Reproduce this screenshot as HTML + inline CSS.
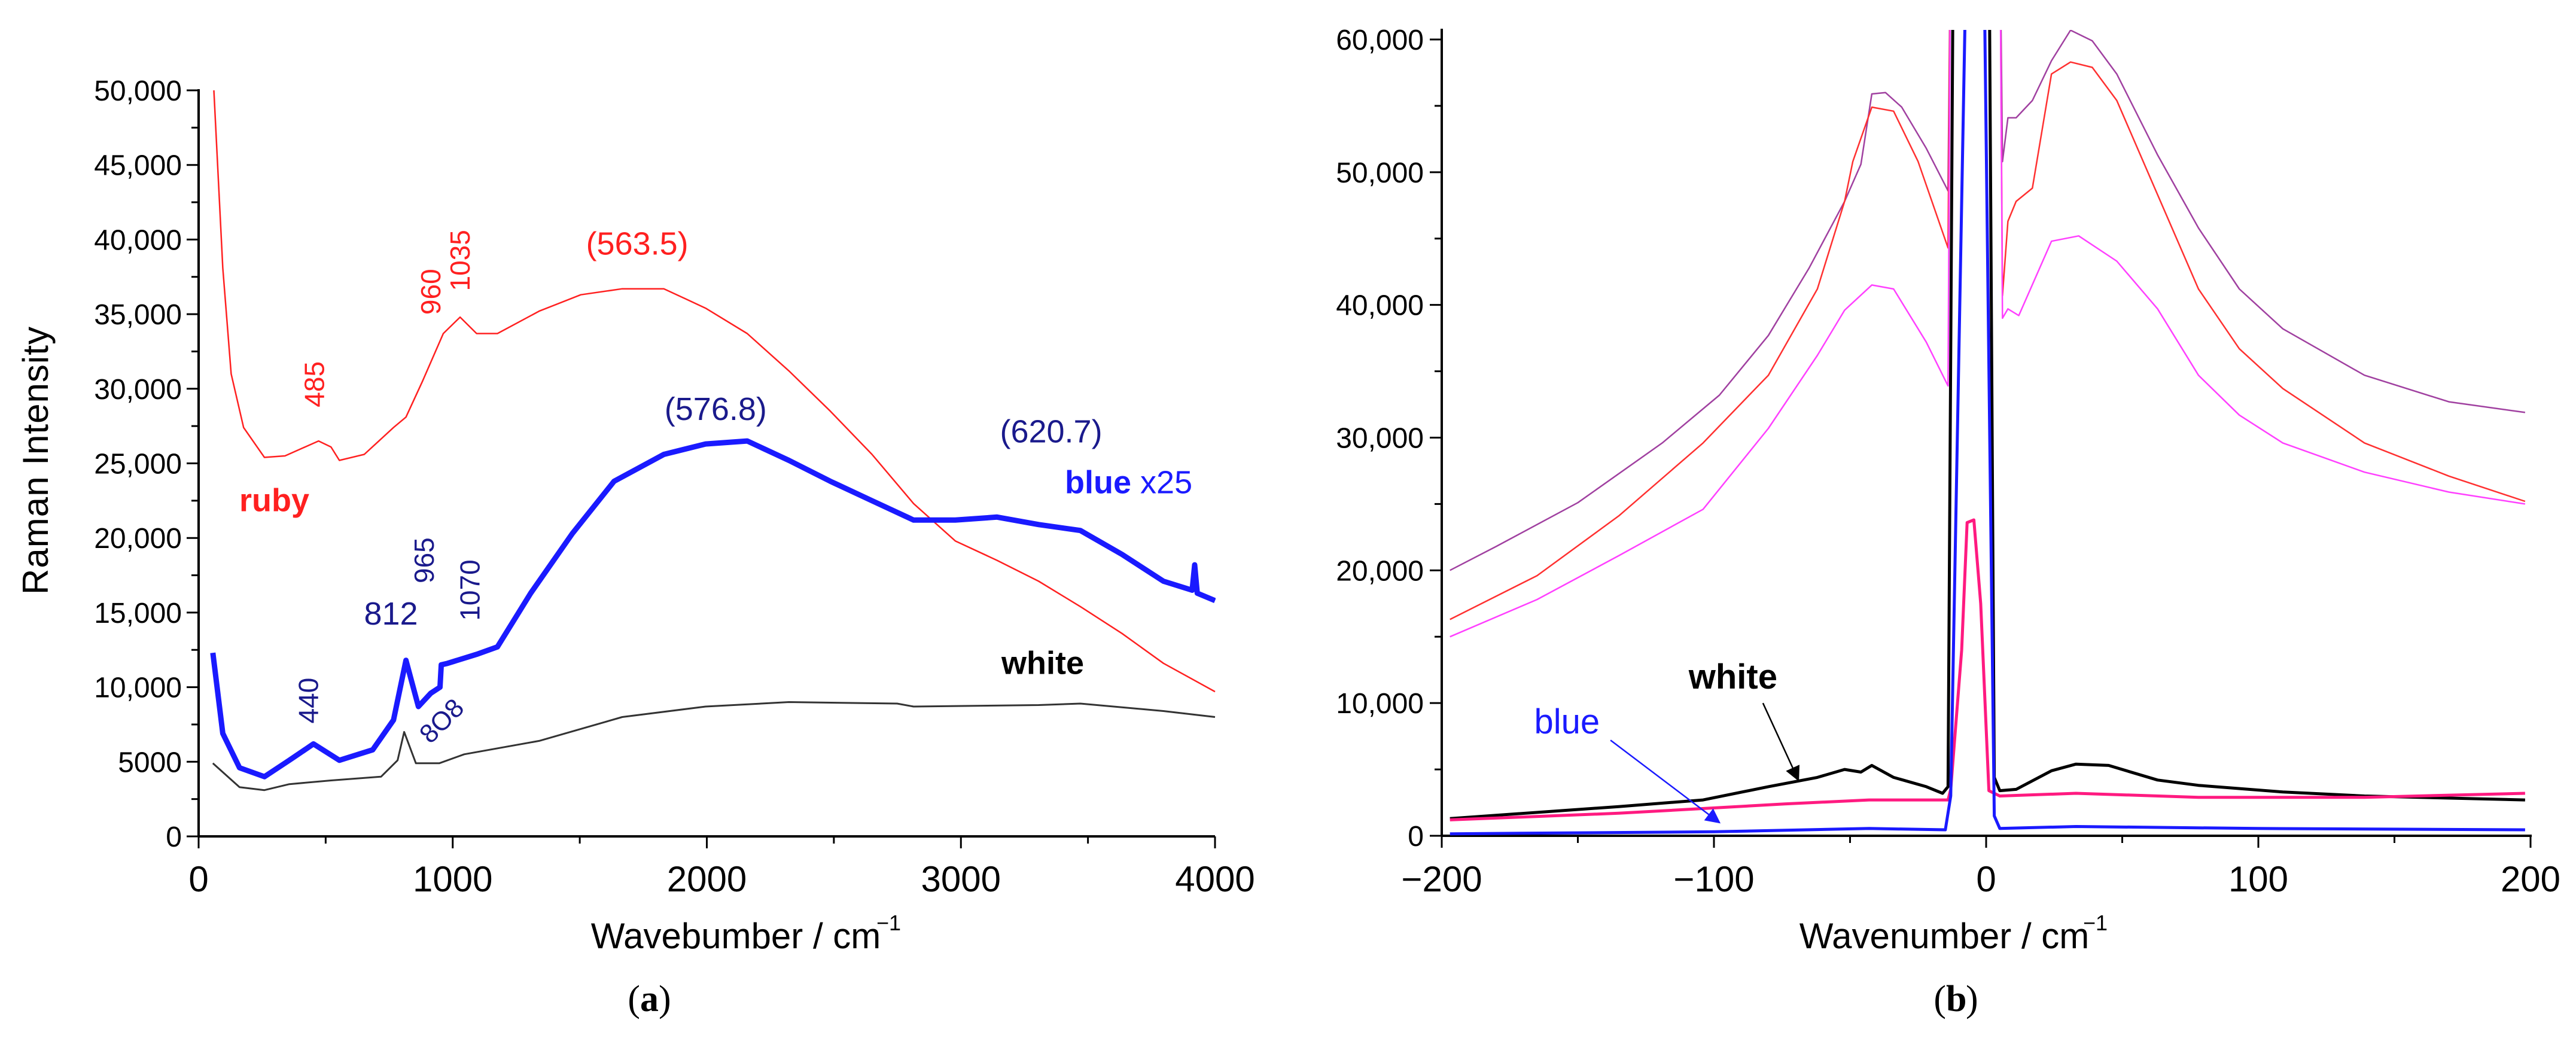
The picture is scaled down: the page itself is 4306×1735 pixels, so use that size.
<!DOCTYPE html>
<html><head><meta charset="utf-8"><style>
html,body{margin:0;padding:0;background:#fff;}
svg{display:block;font-family:"Liberation Sans",sans-serif;}
</style></head><body>
<svg id="chart" width="4306" height="1735" viewBox="0 0 4306 1735" xmlns="http://www.w3.org/2000/svg">
<defs>
<clipPath id="clipA"><rect x="332" y="120" width="1700" height="1280"/></clipPath>
<clipPath id="clipB"><rect x="2410" y="50" width="1822" height="1350"/></clipPath>
<marker id="arrK" markerWidth="10" markerHeight="10" refX="9" refY="5" orient="auto"><path d="M0,0 L10,5 L0,10 z" fill="#000"/></marker>
<marker id="arrB" markerWidth="10" markerHeight="10" refX="9" refY="5" orient="auto"><path d="M0,0 L10,5 L0,10 z" fill="#1a1aff"/></marker>
</defs>
<g id="panelA"></g>
<g id="panelB"></g>
</svg>
<script>
// ---- Panel (a) data ----
const rubyX=[60,95,128,177,259,340,472,521,554,652,767,816,881,963,1029,1094,1176,1340,1504,1667,1831,1995,2159,2323,2486,2650,2814,2978,3142,3306,3470,3634,3797,4000];
const rubyY=[50000,38100,31000,27400,25400,25500,26500,26100,25200,25600,27400,28100,30500,33700,34800,33700,33700,35200,36300,36700,36700,35400,33700,31200,28500,25600,22300,19800,18500,17100,15400,13600,11600,9700];
const blueX=[56,95,161,259,357,452,554,685,767,816,865,914,950,955,980,1094,1176,1307,1471,1635,1831,1995,2159,2323,2486,2650,2814,2978,3142,3306,3470,3634,3797,3910,3920,3930,4000];
const blueY=[12300,6900,4600,4000,5100,6200,5100,5800,7800,11800,8700,9600,10000,11500,11600,12200,12700,16300,20300,23800,25600,26300,26500,25200,23800,22500,21200,21200,21400,20900,20500,18900,17100,16500,18200,16300,15800];
const whiteX=[56,161,259,357,521,718,783,809,855,947,1045,1340,1667,1995,2323,2749,2814,3306,3470,3797,4000];
const whiteY=[4900,3300,3100,3500,3750,4000,5100,7000,4900,4900,5500,6400,8000,8700,9000,8900,8700,8800,8900,8400,8000];
const aXTicks=[0,1000,2000,3000,4000];
const aYTicks=[0,5000,10000,15000,20000,25000,30000,35000,40000,45000,50000];
const aYLabels=["0","5000","10,000","15,000","20,000","25,000","30,000","35,000","40,000","45,000","50,000"];
// ---- Panel (b) data ----
const purpX=[-197,-180,-150,-119,-98,-80,-65,-52,-46,-42,-37,-31,-22,-14,-13,-12,5,6,8,11,17,24,31,39,48,63,78,93,109,139,170,198];
const purpY=[20000,21800,25100,29600,33200,37700,42800,47800,50600,55900,56000,54900,51800,48600,70000,70000,70000,50800,54100,54100,55400,58400,60700,59900,57400,51300,45800,41200,38200,34700,32700,31900];
const redX=[-197,-165,-135,-104,-80,-62,-52,-49,-42,-34,-25,-14,-13,5,6,8,11,17,24,31,39,48,63,78,93,109,139,170,198];
const redY=[16300,19600,24100,29600,34700,41200,47800,50800,54900,54600,50800,44300,70000,70000,40700,46300,47800,48800,57400,58300,57900,55400,48300,41200,36700,33700,29600,27100,25200];
const magX=[-197,-165,-135,-104,-80,-62,-52,-42,-34,-22,-14,-13,5,6,8,12,24,34,48,63,78,93,109,139,170,198];
const magY=[15000,17800,21100,24600,30700,36200,39600,41500,41200,37200,33900,70000,70000,39000,39700,39200,44800,45200,43300,39700,34700,31700,29600,27400,25900,25000];
const whtX=[-197,-135,-104,-80,-62,-52,-46,-42,-34,-22,-16,-14,-12,1,3,5,11,24,33,45,63,78,109,139,198];
const whtY=[1300,2200,2700,3700,4400,5000,4800,5300,4400,3700,3200,3700,70000,70000,4400,3400,3500,4900,5400,5300,4200,3800,3300,3000,2700];
const pinkX=[-197,-135,-74,-43,-14,-13,-9,-7,-4.5,-2,1,5,33,78,139,198];
const pinkY=[1200,1700,2400,2700,2700,3500,14000,23600,23800,17500,3400,3000,3200,2900,2900,3200];
const bluBX=[-197,-100,-43,-15,-13,-7,-1,3,5,33,100,198];
const bluBY=[150,300,550,450,3000,70000,70000,1500,550,700,550,450];
const bXTicks=[-200,-100,0,100,200];
const bXLabels=["\u2212200","\u2212100","0","100","200"];
const bYTicks=[0,10000,20000,30000,40000,50000,60000];
const bYLabels=["0","10,000","20,000","30,000","40,000","50,000","60,000"];

const NS="http://www.w3.org/2000/svg";
function mk(parent,tag,attrs,text){const e=document.createElementNS(NS,tag);for(const k in attrs)e.setAttribute(k,attrs[k]);if(text!==undefined)e.textContent=text;parent.appendChild(e);return e;}

const ax=v=>332+(v/4000)*(2031-332);
const ay=v=>1398-(v/50000)*(1398-151);
const bx=v=>2410+((v+200)/400)*(4230-2410);
const by=v=>1397-(v/60000)*(1397-66);

const A=document.getElementById('panelA');
const B=document.getElementById('panelB');

function series(parent,xs,ys,fx,fy,color,w,name,clip){
  const pts=xs.map((x,i)=>fx(x).toFixed(1)+','+fy(ys[i]).toFixed(1)).join(' ');
  const p=mk(parent,'polyline',{points:pts,fill:'none',stroke:color,'stroke-width':w,'stroke-linejoin':'round','clip-path':'url(#'+clip+')'});
  
  
  return p;
}
function label(parent,x,y,txt,opt,name){
  const t=mk(parent,'text',Object.assign({x:x,y:y},opt),txt);
  
  
  return t;
}

const axA=mk(A,'g',{});


mk(axA,'line',{x1:332,y1:ay(0),x2:2031,y2:ay(0),stroke:'#000','stroke-width':4});
mk(axA,'line',{x1:332,y1:ay(0),x2:332,y2:ay(50000)-2,stroke:'#000','stroke-width':4});
for(let v=0;v<=4000;v+=500){const maj=v%1000===0;mk(axA,'line',{x1:ax(v),y1:ay(0),x2:ax(v),y2:ay(0)+(maj?20:12),stroke:'#000','stroke-width':3});}
for(let v=0;v<=50000;v+=2500){const maj=v%5000===0;mk(axA,'line',{x1:332,y1:ay(v),x2:332-(maj?20:12),y2:ay(v),stroke:'#000','stroke-width':3});}
aXTicks.forEach((v,i)=>label(axA,ax(v),1490,String(v),{'font-size':60,'text-anchor':'middle'},'x-tick-label-a'));
aYTicks.forEach((v,i)=>label(axA,304,ay(v)+17,aYLabels[i],{'font-size':48,'text-anchor':'end'},'y-tick-label-a'));
label(axA,1230,1585,'Wavebumber / cm',{'font-size':60,'text-anchor':'middle'},'x-axis-title-a');
label(axA,1465,1555,'\u22121',{'font-size':36},'x-axis-title-a-sup');
label(axA,0,0,'Raman Intensity',{'font-size':60,'text-anchor':'middle',transform:'translate(80,770) rotate(-90)',textLength:448},'y-axis-title-a');
label(axA,1070,1690,'(',{'font-size':62,'font-family':'Liberation Serif,serif','text-anchor':'end'},'panel-a-caption-l');
label(axA,1070,1690,'a',{'font-size':62,'font-family':'Liberation Serif,serif','font-weight':'bold'},'panel-a-caption');
label(axA,1101,1690,')',{'font-size':62,'font-family':'Liberation Serif,serif'},'panel-a-caption-r');

series(A,whiteX,whiteY,ax,ay,'#333',3,'white-series-a','clipA');
series(A,rubyX,rubyY,ax,ay,'#ff2020',2.5,'ruby-series-a','clipA');
series(A,blueX,blueY,ax,ay,'#1a1aff',9,'blue-series-a','clipA');

const red='#ff2020',navy='#1a1a8c';
label(A,ax(160),ay(21800),'ruby',{'font-size':54,'font-weight':'bold',fill:red},'ruby-label');
label(A,0,0,'485',{'font-size':46,fill:red,'text-anchor':'middle',transform:`translate(${ax(455)+16},${ay(30300)}) rotate(-90)`},'peak-485');
label(A,0,0,'960',{'font-size':46,fill:red,'text-anchor':'middle',transform:`translate(${ax(914)+16},${ay(36500)}) rotate(-90)`},'peak-960');
label(A,0,0,'1035',{'font-size':46,fill:red,'text-anchor':'middle',transform:`translate(${ax(1029)+16},${ay(38600)}) rotate(-90)`},'peak-1035');
label(A,ax(1726),ay(39800)+20,'(563.5)',{'font-size':54,fill:red,'text-anchor':'middle'},'ruby-peak-label');
label(A,ax(2035),ay(28700)+20,'(576.8)',{'font-size':54,fill:navy,'text-anchor':'middle'},'blue-peak-label-1');
label(A,ax(3355),ay(27200)+20,'(620.7)',{'font-size':54,fill:navy,'text-anchor':'middle'},'blue-peak-label-2');
const bl=label(A,ax(3660),ay(23800)+20,'',{'font-size':54,fill:'#1a1aff','text-anchor':'middle'},'blue-x25-label');
mk(bl,'tspan',{'font-weight':'bold'},'blue');mk(bl,'tspan',{},' x25');
label(A,ax(757),ay(15000)+20,'812',{'font-size':54,fill:navy,'text-anchor':'middle'},'peak-812');
label(A,0,0,'965',{'font-size':46,fill:navy,'text-anchor':'middle',transform:`translate(${ax(888)+16},${ay(18500)}) rotate(-90)`},'peak-965');
label(A,0,0,'1070',{'font-size':46,fill:navy,'text-anchor':'middle',transform:`translate(${ax(1068)+16},${ay(16500)}) rotate(-90)`},'peak-1070');
label(A,0,0,'440',{'font-size':46,fill:navy,'text-anchor':'middle',transform:`translate(${ax(432)+16},${ay(9100)}) rotate(-90)`},'peak-440');
label(A,0,0,'8O8',{'font-size':44,fill:navy,'text-anchor':'middle',transform:`translate(${ax(953)+12},${ay(7800)+12}) rotate(-45)`},'peak-808');
label(A,ax(3322),ay(11600)+18,'white',{'font-size':54,'font-weight':'bold',fill:'#000','text-anchor':'middle'},'white-label-a');

const axB=mk(B,'g',{});


mk(axB,'line',{x1:2410,y1:by(0),x2:4232,y2:by(0),stroke:'#000','stroke-width':4});
mk(axB,'line',{x1:2410,y1:by(0),x2:2410,y2:48,stroke:'#000','stroke-width':4});
for(let v=-200;v<=200;v+=50){const maj=v%100===0;mk(axB,'line',{x1:bx(v),y1:by(0),x2:bx(v),y2:by(0)+(maj?20:12),stroke:'#000','stroke-width':3});}
for(let v=0;v<=60000;v+=5000){const maj=v%10000===0;mk(axB,'line',{x1:2410,y1:by(v),x2:2410-(maj?20:12),y2:by(v),stroke:'#000','stroke-width':3});}
bXTicks.forEach((v,i)=>label(axB,bx(v),1490,bXLabels[i],{'font-size':60,'text-anchor':'middle'},'x-tick-label-b'));
bYTicks.forEach((v,i)=>label(axB,2380,by(v)+17,bYLabels[i],{'font-size':48,'text-anchor':'end'},'y-tick-label-b'));
label(axB,3250,1585,'Wavenumber / cm',{'font-size':60,'text-anchor':'middle'},'x-axis-title-b');
label(axB,3482,1555,'\u22121',{'font-size':36},'x-axis-title-b-sup');
label(axB,3253,1690,'(',{'font-size':62,'font-family':'Liberation Serif,serif','text-anchor':'end'},'panel-b-caption-l');
label(axB,3253,1690,'b',{'font-size':62,'font-family':'Liberation Serif,serif','font-weight':'bold'},'panel-b-caption');
label(axB,3286,1690,')',{'font-size':62,'font-family':'Liberation Serif,serif'},'panel-b-caption-r');

series(B,purpX,purpY,bx,by,'#a040a0',2.5,'purple-series-b','clipB');
series(B,redX,redY,bx,by,'#ff3030',2.5,'red-series-b','clipB');
series(B,magX,magY,bx,by,'#ff40ff',2.5,'magenta-series-b','clipB');
series(B,whtX,whtY,bx,by,'#000',5,'white-series-b','clipB');
series(B,pinkX,pinkY,bx,by,'#ff1a80',5,'pink-series-b','clipB');
series(B,bluBX,bluBY,bx,by,'#1a1aff',5,'blue-series-b','clipB');

label(B,bx(-93),by(12000)+20,'white',{'font-size':58,'font-weight':'bold','text-anchor':'middle'},'white-label-b');
label(B,bx(-154),by(8700)+22,'blue',{'font-size':58,fill:'#1a1aff','text-anchor':'middle'},'blue-label-b');
const a1=mk(B,'line',{x1:bx(-82),y1:by(10000),x2:bx(-69),y2:by(4200),stroke:'#000','stroke-width':2.5,'marker-end':'url(#arrK)'});


const a2=mk(B,'line',{x1:bx(-138),y1:by(7200),x2:bx(-98),y2:by(1000),stroke:'#1a1aff','stroke-width':2.5,'marker-end':'url(#arrB)'});


</script>
</body></html>
